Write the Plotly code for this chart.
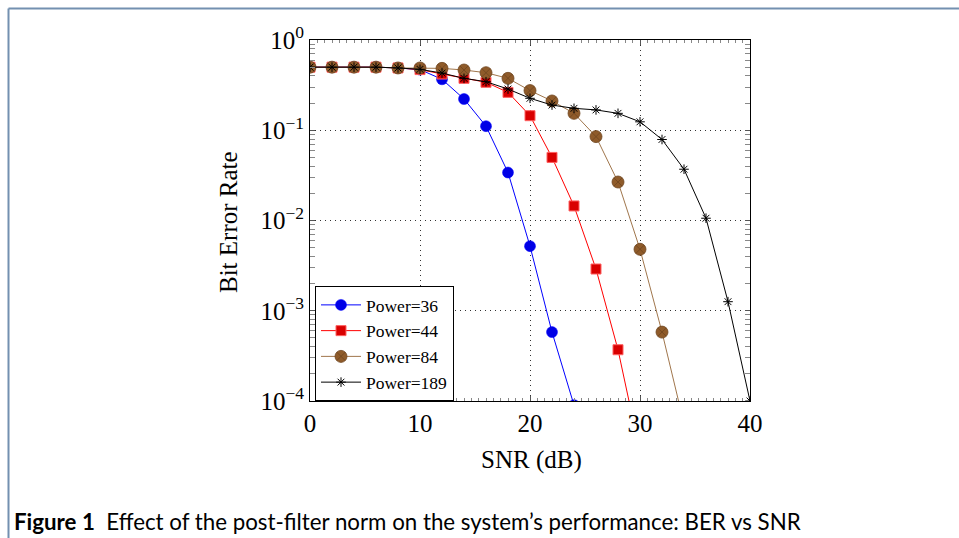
import plotly.graph_objects as go

snr = [0, 2, 4, 6, 8, 10, 12, 14, 16, 18, 20, 22, 24, 26, 28, 30, 32, 34, 36, 38, 40]

ber_36 = [0.5, 0.5, 0.5, 0.5, 0.49, 0.47, 0.367, 0.222, 0.111, 0.034, 0.0052, 0.00058, 0.00009]
ber_44 = [0.5, 0.5, 0.5, 0.5, 0.49, 0.47, 0.42, 0.376, 0.34, 0.263, 0.145, 0.050, 0.0145, 0.0029, 0.00037, 0.000027]
ber_84 = [0.5, 0.5, 0.5, 0.5, 0.49, 0.49, 0.485, 0.465, 0.434, 0.376, 0.275, 0.211, 0.154, 0.085, 0.0267, 0.0048, 0.00058, 0.000056]
ber_189 = [0.5, 0.5, 0.5, 0.5, 0.49, 0.473, 0.43, 0.376, 0.345, 0.286, 0.226, 0.19, 0.175, 0.168, 0.154, 0.124, 0.079, 0.037, 0.0106, 0.00126, 0.0001]

names = ["Power=36", "Power=44", "Power=84", "Power=189"]

y_tickvals = [1e-4, 1e-3, 1e-2, 1e-1, 1]
y_ticktext = ["10<sup>−4</sup>", "10<sup>−3</sup>", "10<sup>−2</sup>", "10<sup>−1</sup>", "10<sup>0</sup>"]
x_tickvals = [0, 10, 20, 30, 40]

caption_bold = "Figure 1"
caption_text = "Effect of the post-filter norm on the system’s performance: BER vs SNR"

SERIF = "Liberation Serif, DejaVu Serif, serif"

fig = go.Figure()

fig.add_trace(go.Scatter(
    x=snr[:len(ber_36)], y=ber_36, name=names[0], mode="lines+markers",
    line=dict(color="#0000ff", width=1),
    marker=dict(symbol="circle", size=11, color="#0000e6", line=dict(color="#0000ff", width=0.5)),
))
fig.add_trace(go.Scatter(
    x=snr[:len(ber_44)], y=ber_44, name=names[1], mode="lines+markers",
    line=dict(color="#ff0000", width=1),
    marker=dict(symbol="square", size=10, color="#d90000", line=dict(color="#ff6060", width=1)),
))
fig.add_trace(go.Scatter(
    x=snr[:len(ber_84)], y=ber_84, name=names[2], mode="lines+markers",
    line=dict(color="#a0764c", width=1),
    marker=dict(symbol="circle-x", size=12, color="#8f5b2a", line=dict(color="#6e4520", width=0.8)),
))
fig.add_trace(go.Scatter(
    x=snr[:len(ber_189)], y=ber_189, name=names[3], mode="lines+markers",
    line=dict(color="#000000", width=1),
    marker=dict(symbol="asterisk-open", size=8, color="#000000", line=dict(color="#000000", width=1)),
))

# plot area in pixels: x 310..750, y 40..401
L, R, T, B = 310, 750, 40, 401
W, H = 959, 538
pw, ph = R - L, B - T

def px_x(x):
    return (x - L) / pw

def px_y(y):
    return (B - y) / ph

# outer page frame (top and left lines)
frame_color = "#7390b0"
fig.add_shape(type="line", xref="paper", yref="paper",
              x0=px_x(8.5), x1=px_x(W), y0=px_y(8.5), y1=px_y(8.5),
              line=dict(color=frame_color, width=2))
fig.add_shape(type="line", xref="paper", yref="paper",
              x0=px_x(8.5), x1=px_x(8.5), y0=px_y(8.5), y1=px_y(H),
              line=dict(color=frame_color, width=2))

# axis titles as annotations
fig.add_annotation(text="SNR (dB)", xref="paper", yref="paper",
                   x=px_x(531), y=px_y(460), showarrow=False,
                   xanchor="center", yanchor="middle",
                   font=dict(family=SERIF, size=25, color="#000"))
fig.add_annotation(text="Bit Error Rate", xref="paper", yref="paper",
                   x=px_x(228), y=px_y(222), showarrow=False, textangle=-90,
                   xanchor="center", yanchor="middle",
                   font=dict(family=SERIF, size=25, color="#000"))

# caption
fig.add_annotation(text="<b>" + caption_bold + "</b>  " + caption_text,
                   xref="paper", yref="paper", x=px_x(12), y=px_y(521),
                   xanchor="left", yanchor="middle", showarrow=False,
                   font=dict(family="Lato, Open Sans, sans-serif", size=22.3, color="#000"))

fig.update_layout(
    width=W, height=H,
    margin=dict(l=L, r=W - R, t=T, b=H - B, pad=0),
    paper_bgcolor="white", plot_bgcolor="white",
    showlegend=True,
    legend=dict(x=px_x(315), y=px_y(286), xanchor="left", yanchor="top",
                bgcolor="white", bordercolor="#000", borderwidth=1,
                font=dict(family=SERIF, size=17.5, color="#000"),
                tracegroupgap=0, itemwidth=40),
    font=dict(family=SERIF, color="#000"),
)

GRID_DASH = "1px,4px"

fig.update_xaxes(
    range=[0, 40], tickvals=x_tickvals, ticktext=[str(v) for v in x_tickvals],
    showline=True, linecolor="#000", linewidth=1, mirror="allticks",
    ticks="inside", ticklen=5, tickcolor="#555",
    showgrid=True, gridcolor="#333", griddash=GRID_DASH, gridwidth=1,
    zeroline=False,
    tickfont=dict(family=SERIF, size=25, color="#000"),
    minor=dict(ticks="inside", ticklen=3, tickcolor="#888", dtick=10 / 15, showgrid=False),
)
fig.update_yaxes(
    type="log", range=[-4, 0], tickvals=y_tickvals, ticktext=y_ticktext,
    showline=True, linecolor="#000", linewidth=1, mirror="allticks",
    ticks="inside", ticklen=5, tickcolor="#555",
    showgrid=True, gridcolor="#333", griddash=GRID_DASH, gridwidth=1,
    zeroline=False,
    tickfont=dict(family=SERIF, size=25, color="#000"),
    minor=dict(ticks="inside", ticklen=5, tickcolor="#888", dtick="D1", showgrid=False),
)

fig.write_html("out.html")
